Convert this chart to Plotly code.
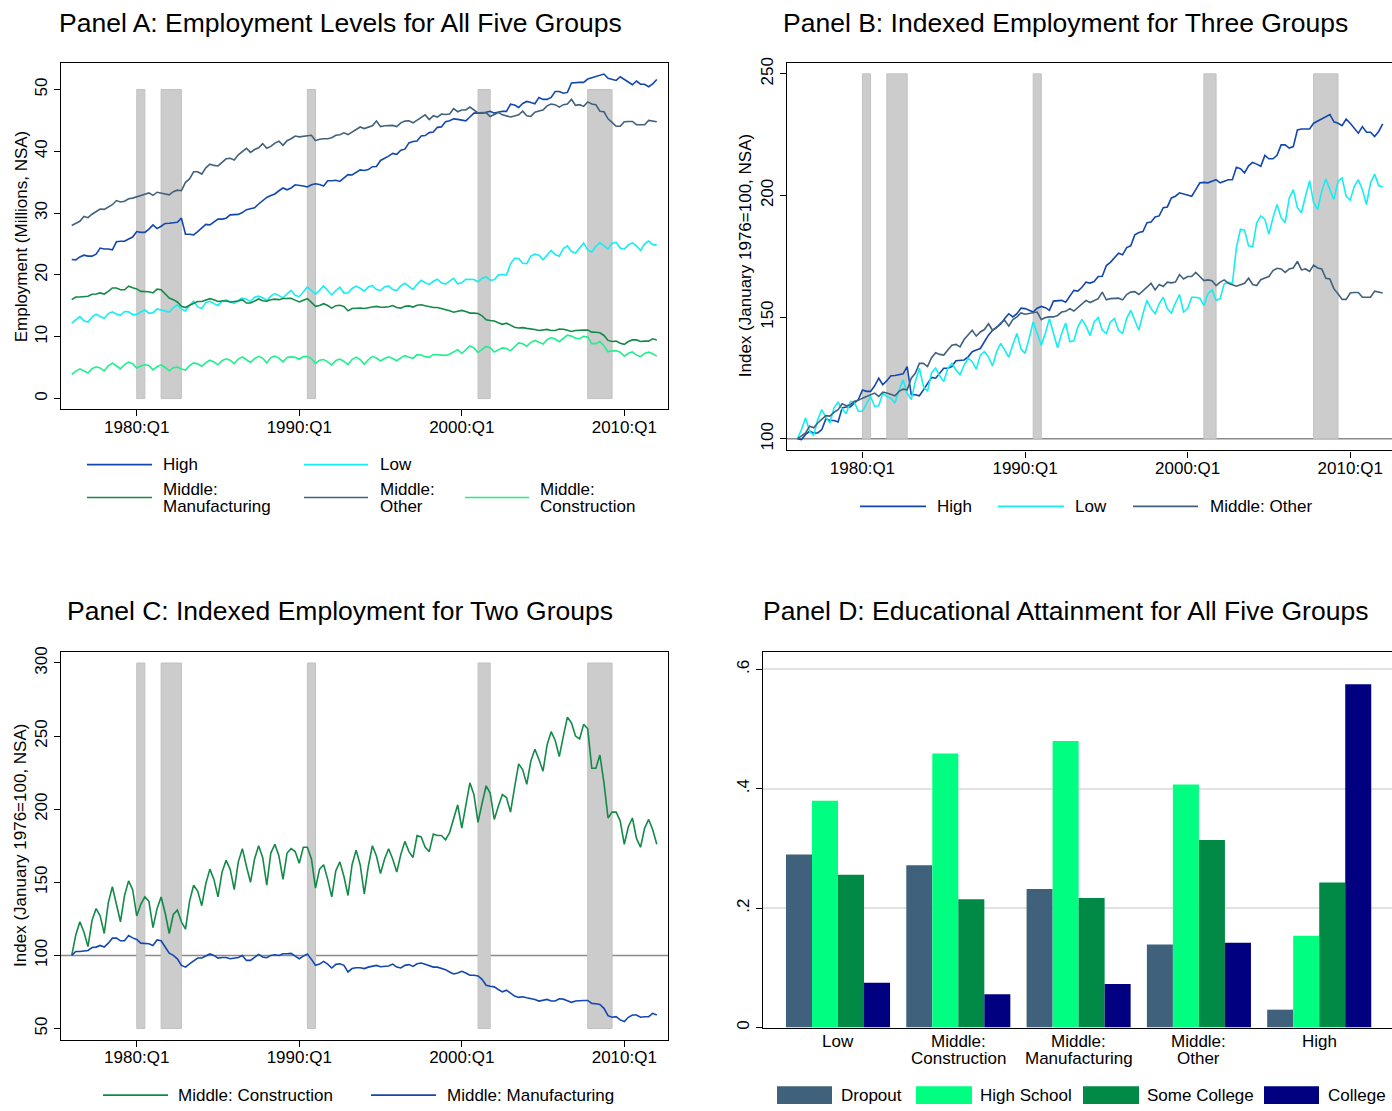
import pandas as pd
import plotly.graph_objects as go

W, H = 1392, 1111
FONT = "Liberation Sans, Arial, sans-serif"

# quarters on the time axis, 1976:Q1 .. 2012:Q1
quarters = pd.period_range("1976Q1", "2012Q1", freq="Q")
t = list(quarters.year + (quarters.quarter - 1) / 4)

idx_high = [100, 99.7, 101.8, 103.1, 102.4, 102.4, 103.8, 108.2, 107.5, 107.5, 106.9, 112.7,
            113.1, 113.1, 114.7, 116.1, 120.1, 119.5, 119.5, 121.8, 124.9, 122.2, 123.9, 125.9,
            126, 126.3, 126.7, 129.7, 118.1, 118.1, 117.7, 120.1, 122.4, 125.2, 124.9, 126.9,
            129, 129, 129.7, 132.1, 132.1, 132.4, 133.7, 135.8, 136.5, 137.1, 139.9, 142.6,
            144.6, 146, 147.1, 149.4, 151.4, 150.1, 151.4, 153.7, 153.5, 152.8, 152.1, 153.7,
            154.4, 153.9, 152.8, 156.6, 156.6, 156.9, 156.1, 158.5, 161, 160.7, 162.3, 164.4,
            164, 164.6, 166.7, 166.8, 171.2, 172.5, 174.3, 176.3, 175.6, 178.6, 179.3, 183.8,
            184.8, 185.2, 188.8, 189.1, 191.2, 191.6, 195, 195.3, 199, 199.7, 201.1, 200.7,
            200.4, 199.7, 202.4, 205.2, 205.4, 205.2, 205.9, 206.5, 205.2, 205.9, 206.5, 206.5,
            211.6, 211, 209.3, 212.2, 213.6, 212.9, 212, 216.5, 215.1, 215.1, 216.5, 220.8,
            220.8, 219.5, 220.1, 226.9, 227.3, 227.3, 227.3, 229.7, 230.6, 231.4, 232.4, 233.3,
            230.3, 229.7, 228.7, 231.4, 229.7, 227.6, 225.6, 228.3, 226, 226, 224.2, 226.3,
            229.4]
idx_low = [100, 103.8, 108.6, 103.1, 101.4, 107.9, 112, 108.8, 106.5, 112.7, 115, 112.2,
           110.3, 115.4, 115, 111.3, 111.3, 114.7, 117.4, 113.3, 113.6, 118.8, 117.4, 116.7,
           114.7, 120.1, 124.2, 118.8, 116.1, 123.5, 129, 121.5, 119.5, 127.2, 129, 125.9,
           123.5, 129, 131, 128.3, 126.3, 130.3, 133.1, 131.7, 128.6, 134.4, 135.8, 133.7,
           129.9, 135.8, 139.2, 136.5, 133.5, 138.8, 143.3, 137, 135.1, 141.2, 148, 143.3,
           138.5, 143.5, 149.4, 143.3, 137.4, 143.3, 147.6, 139.9, 140.3, 146, 149.1, 146.3,
           142.4, 148, 149.8, 144.6, 143.3, 148, 149.4, 144.6, 143.3, 149.4, 152.8, 148.7,
           144.6, 151.4, 156.9, 153.5, 151.4, 155.5, 158.2, 153.5, 151.7, 155.8, 159.3, 152.1,
           153.5, 158.2, 158.2, 157.8, 154.8, 159.6, 161.2, 156.9, 157.6, 163.7, 164.4, 163.7,
           178.6, 186.1, 185.7, 179.3, 178.9, 188.8, 191.6, 190.2, 184.1, 190.9, 196.3, 190.9,
           188.8, 199, 202.4, 195, 192.9, 199.7, 206.1, 197, 194.3, 201.8, 206.8, 202.4,
           198.4, 205.9, 207.2, 199.7, 198.1, 203.8, 206.5, 202.4, 196.3, 205.2, 208.8, 204.1,
           203.5]
idx_other = [100, 101.1, 102.4, 105.2, 104.5, 106.5, 108.2, 109.5, 109.3, 110.9, 112, 114.4,
             113.6, 114, 115.4, 115.8, 116.7, 117.4, 118.1, 118.8, 117.4, 119.2, 118.8, 118.1,
             117.7, 119.5, 120.4, 120.1, 124.9, 126.9, 131, 131, 129.7, 133.3, 135.4, 134.7,
             134.4, 136.5, 138.5, 138.8, 137.8, 140.8, 142.6, 144.6, 142.2, 143.9, 144.9, 147.3,
             144.6, 145.7, 147.6, 148.7, 146.3, 149, 150.1, 151.7, 151.2, 151.4, 151.7, 152.1,
             149, 149.8, 150.1, 150.1, 150.7, 152.1, 152.4, 153.5, 152.5, 154.1, 155.5, 156.9,
             156, 156.9, 157.6, 160.3, 157.1, 157.6, 157.8, 157.8, 157.1, 159.3, 160.3, 160.5,
             159.3, 161, 162.3, 163.9, 161.2, 163.4, 162.6, 164.4, 164.1, 164.4, 167.5, 165.7,
             166.7, 166.7, 168.4, 166.7, 165, 165.3, 165, 163, 164.4, 165.3, 163.9, 163.3,
             162.7, 163.3, 163.9, 166, 163.4, 163, 165.4, 166.1, 166.7, 169.1, 170.1, 169.8,
             168.4, 169.8, 170.2, 172.9, 169.4, 169.8, 168.8, 171.4, 170.2, 169.8, 166, 165.7,
             161.6, 159.6, 157.3, 157.3, 159.9, 160.1, 160.1, 158.2, 158.2, 158.2, 160.7, 160.3,
             159.9]
idx_manuf = [100, 102.7, 102.7, 103, 103.4, 105.4, 105.7, 106.8, 105.7, 108.4, 111.8, 111.8,
             110, 110, 113.6, 112, 110.9, 108.4, 108.4, 108, 106.8, 110.6, 110, 105.7,
             101.6, 100, 97.7, 93.2, 92, 94.3, 96.4, 98.2, 98.2, 99.5, 101, 100,
             98.2, 98.6, 98.6, 97.7, 98.2, 98.6, 100, 96.6, 96.6, 98.9, 100.7, 98.9,
             98.4, 100, 100.5, 100, 101.1, 101.1, 101.4, 99.5, 97.7, 99.5, 100.9, 97.3,
             93.2, 94.1, 95.9, 94.1, 91.4, 93.9, 94.3, 93.2, 88.7, 91, 91.6, 91.6,
             91, 92, 92.5, 93.2, 92.3, 92.5, 92.8, 94.1, 92, 91.4, 93.2, 93.7,
             92.5, 94.3, 94.8, 93.9, 92.8, 92, 92, 91, 90.3, 88.7, 87.3, 88,
             89.1, 88, 86.4, 86.4, 86, 83.7, 79.6, 78.9, 78.5, 76.7, 75.1, 76.2,
             74, 72.2, 71.3, 71.7, 71, 70.6, 69.9, 68.8, 69.5, 69.9, 68.8, 68.8,
             70.4, 70.1, 69, 67.9, 68.8, 69.2, 69.2, 69.2, 67.2, 67, 66.5, 63.8,
             58.8, 57.7, 58.1, 55.9, 54.8, 57.7, 59.3, 59.3, 57.7, 58.1, 58.1, 60.4,
             59.3]
idx_constr = [100, 114, 123, 116, 106, 124, 132, 127, 115, 136, 147, 136,
              123, 141, 151, 145, 127, 135, 140, 137, 119, 132, 140, 129,
              115, 128, 131, 123, 118, 137, 148, 144, 134, 149, 159, 152,
              140, 157, 165, 159, 145, 164, 173, 161, 150, 166, 175, 167,
              148, 170, 176, 168, 152, 170, 173, 171, 163, 174, 174, 166,
              146, 159, 162, 152, 140, 158, 164, 154, 141, 162, 172, 162,
              142, 161, 175, 168, 156, 166, 173, 166, 157, 169, 178, 171,
              167, 182, 181, 174, 171, 183, 182, 182, 179, 184, 194, 203,
              187, 203, 218, 210, 191, 204, 216, 211, 193, 202, 210, 208,
              198, 215, 231, 227, 217, 233, 241, 234, 226, 244, 253, 247,
              236, 250, 263, 259, 250, 248, 258, 255, 228, 228, 237, 218,
              194, 198, 198, 192, 176, 188, 194, 180, 174, 187, 193, 186,
              176]

# employment in 1976:Q1, millions (panel A)
base_high, base_low, base_manuf, base_other, base_constr = 22.5, 12.2, 16.0, 28.0, 3.9

# NBER recessions (first and last quarter)
recessions = [("1980Q1", "1980Q3"), ("1981Q3", "1982Q4"), ("1990Q3", "1991Q1"),
              ("2001Q1", "2001Q4"), ("2007Q4", "2009Q2")]

# panel D: share of each group by education
groups = ["Low", "Middle:<br>Construction", "Middle:<br>Manufacturing", "Middle:<br>Other", "High"]
dropout = [0.290, 0.272, 0.232, 0.139, 0.030]
high_school = [0.380, 0.459, 0.480, 0.407, 0.154]
some_college = [0.256, 0.215, 0.217, 0.314, 0.243]
college = [0.075, 0.056, 0.073, 0.142, 0.575]

C_HIGH = "#1347b0"
C_LOW = "#14eef2"
C_MANUF = "#138a48"
C_OTHER = "#41617c"
C_CONSTR = "#1ef08c"
C_DROP = "#3f617c"
C_HS = "#00ff80"
C_SC = "#008a45"
C_COL = "#000080"


def px(x):
    return x / W


def py(y):
    return 1 - y / H


def level(idx, base):
    return [v * base / 100 for v in idx]


def qpos(q):
    p = pd.Period(q, freq="Q")
    return p.year + (p.quarter - 1) / 4


fig = go.Figure()

# Panel A
for idx, base, col in [(idx_high, base_high, C_HIGH), (idx_low, base_low, C_LOW),
                       (idx_manuf, base_manuf, C_MANUF), (idx_other, base_other, C_OTHER),
                       (idx_constr, base_constr, C_CONSTR)]:
    fig.add_trace(go.Scatter(x=t, y=level(idx, base), mode="lines", xaxis="x", yaxis="y",
                             line=dict(color=col, width=1.6), hoverinfo="skip"))

# Panel B
for idx, col in [(idx_high, C_HIGH), (idx_low, C_LOW), (idx_other, C_OTHER)]:
    fig.add_trace(go.Scatter(x=t, y=idx, mode="lines", xaxis="x2", yaxis="y2",
                             line=dict(color=col, width=1.6), hoverinfo="skip"))

# Panel C
for idx, col in [(idx_constr, C_MANUF), (idx_manuf, C_HIGH)]:
    fig.add_trace(go.Scatter(x=t, y=idx, mode="lines", xaxis="x3", yaxis="y3",
                             line=dict(color=col, width=1.6), hoverinfo="skip"))

# Panel D
for vals, col in [(dropout, C_DROP), (high_school, C_HS), (some_college, C_SC), (college, C_COL)]:
    fig.add_trace(go.Bar(x=list(range(len(groups))), y=vals, xaxis="x4", yaxis="y4",
                         marker=dict(color=col, line=dict(width=0)), hoverinfo="skip"))

# recession shading and the 100 reference lines
shapes = []
for xr, yr, lo, hi in [("x", "y", 0, 50), ("x2", "y2", 100, 250), ("x3", "y3", 50, 300)]:
    for a, b in recessions:
        shapes.append(dict(type="rect", xref=xr, yref=yr, x0=qpos(a), x1=qpos(b), y0=lo, y1=hi,
                           fillcolor="#cccccc", line=dict(color="#c2c2c2", width=1), layer="below"))
for xr, yr in [("x2", "y2"), ("x3", "y3")]:
    shapes.append(dict(type="line", xref=xr + " domain", yref=yr, x0=0, x1=1, y0=100, y1=100,
                       line=dict(color="#8a8a8a", width=1.5), layer="below"))

annotations = []


def text(x, y, s, size=17, anchor="left", angle=0):
    annotations.append(dict(x=px(x), y=py(y), xref="paper", yref="paper",
                            text=s, showarrow=False, xanchor=anchor, yanchor="middle",
                            textangle=angle, font=dict(family=FONT, size=size, color="black")))


def key_line(x0, x1, y, col):
    shapes.append(dict(type="line", xref="paper", yref="paper", x0=px(x0), x1=px(x1),
                       y0=py(y), y1=py(y), line=dict(color=col, width=1.6)))


def key_box(x0, x1, y0, y1, col):
    shapes.append(dict(type="rect", xref="paper", yref="paper", x0=px(x0), x1=px(x1),
                       y0=py(y1), y1=py(y0), fillcolor=col, line=dict(width=0)))


# titles
text(340, 17, "Panel A: Employment Levels for All Five Groups", size=26.5, anchor="center")
text(1065, 17, "Panel B: Indexed Employment for Three Groups", size=26.5, anchor="center")
text(340, 609, "Panel C: Indexed Employment for Two Groups", size=26.5, anchor="center")
text(1065, 609, "Panel D: Educational Attainment for All Five Groups", size=26.5, anchor="center")

# y axis titles
text(21, 232, "Employment (Millions, NSA)", angle=-90, anchor="center")
text(745, 252, "Index (January 1976=100, NSA)", angle=-90, anchor="center")
text(21, 846, "Index (January 1976=100, NSA)", angle=-90, anchor="center")

# legend panel A
key_line(87, 152, 462, C_HIGH)
text(161, 462, "High")
key_line(304, 368, 462, C_LOW)
text(378, 462, "Low")
key_line(87, 152, 495, C_MANUF)
text(161, 487, "Middle:")
text(161, 504, "Manufacturing")
key_line(304, 368, 495, C_OTHER)
text(378, 487, "Middle:")
text(378, 504, "Other")
key_line(465, 529, 495, C_CONSTR)
text(538, 487, "Middle:")
text(538, 504, "Construction")

# legend panel B
key_line(860, 926, 504, C_HIGH)
text(935, 504, "High")
key_line(998, 1064, 504, C_LOW)
text(1073, 504, "Low")
key_line(1133, 1198, 504, C_OTHER)
text(1208, 504, "Middle: Other")

# legend panel C
key_line(103, 168, 1097, C_MANUF)
text(176, 1097, "Middle: Construction")
key_line(371, 436, 1097, C_HIGH)
text(445, 1097, "Middle: Manufacturing")

# legend panel D
for (x0, x1, tx), lab, col in zip([(777, 832, 839), (916, 972, 978), (1083, 1139, 1145), (1264, 1319, 1326)],
                                  ["Dropout", "High School", "Some College", "College"],
                                  [C_DROP, C_HS, C_SC, C_COL]):
    key_box(x0, x1, 1088, 1106, col)
    text(tx, 1097, lab)

# category labels panel D
for i, g in enumerate(groups):
    parts = g.split("<br>")
    for k, part in enumerate(parts):
        annotations.append(dict(x=i, y=py(1043 + 17 * k), xref="x4", yref="paper", text=part,
                                showarrow=False, xanchor="center", yanchor="middle",
                                font=dict(family=FONT, size=17, color="black")))

axis_common = dict(showline=True, linecolor="black", linewidth=1.3, ticks="outside", ticklen=6,
                   tickcolor="black", tickwidth=1.2, showgrid=False, zeroline=False,
                   tickfont=dict(family=FONT, size=17, color="black"))

xticks = dict(tickmode="array", tickvals=[1980, 1990, 2000, 2010],
              ticktext=["1980:Q1", "1990:Q1", "2000:Q1", "2010:Q1"], ticklabelstandoff=-4)

fig.update_layout(
    width=W, height=H,
    margin=dict(l=0, r=0, t=0, b=0),
    paper_bgcolor="white", plot_bgcolor="white",
    showlegend=False,
    barmode="group", bargap=0.135, bargroupgap=0,
    shapes=shapes, annotations=annotations,
    xaxis=dict(**axis_common, **xticks, domain=[px(61), px(668)], range=[1975.34, 2012.69],
               mirror=True, anchor="y"),
    yaxis=dict(**axis_common, domain=[py(406), py(57.3)], range=[-1.7, 54.3], mirror=True,
               tickvals=[0, 10, 20, 30, 40, 50], tickangle=-90, anchor="x"),
    xaxis2=dict(**axis_common, **xticks, domain=[px(786.7), 1], range=[1975.34, 2012.57],
                mirror=True, anchor="y2"),
    yaxis2=dict(**axis_common, domain=[py(447.7), py(57.3)], range=[95.2, 254.5],
                tickvals=[100, 150, 200, 250], tickangle=-90, anchor="x2"),
    xaxis3=dict(**axis_common, **xticks, domain=[px(61), px(668)], range=[1975.34, 2012.69],
                mirror=True, anchor="y3"),
    yaxis3=dict(**axis_common, domain=[py(1041), py(650.7)], range=[42.5, 307.5], mirror=True,
                tickvals=[50, 100, 150, 200, 250, 300], tickangle=-90, anchor="x3"),
    xaxis4=dict(showline=True, linecolor="black", linewidth=1.3, mirror=True, ticks="",
                showticklabels=False, showgrid=False, zeroline=False,
                domain=[px(763.3), 1], range=[-0.621, 4.605], anchor="y4"),
    yaxis4=dict(**{k: v for k, v in axis_common.items() if k != "showgrid"},
                showgrid=True, gridcolor="#e2e2e2", gridwidth=1.5,
                domain=[py(1029), py(650.7)], range=[0, 0.629],
                tickvals=[0, 0.2, 0.4, 0.6], ticktext=["0", ".2", ".4", ".6"],
                tickangle=-90, anchor="x4"),
)

# page margin off so the figure sits at the window's corner; no toolbar
fig.write_html("out.html", config={"displayModeBar": False},
               post_script="document.body.style.margin='0';")
